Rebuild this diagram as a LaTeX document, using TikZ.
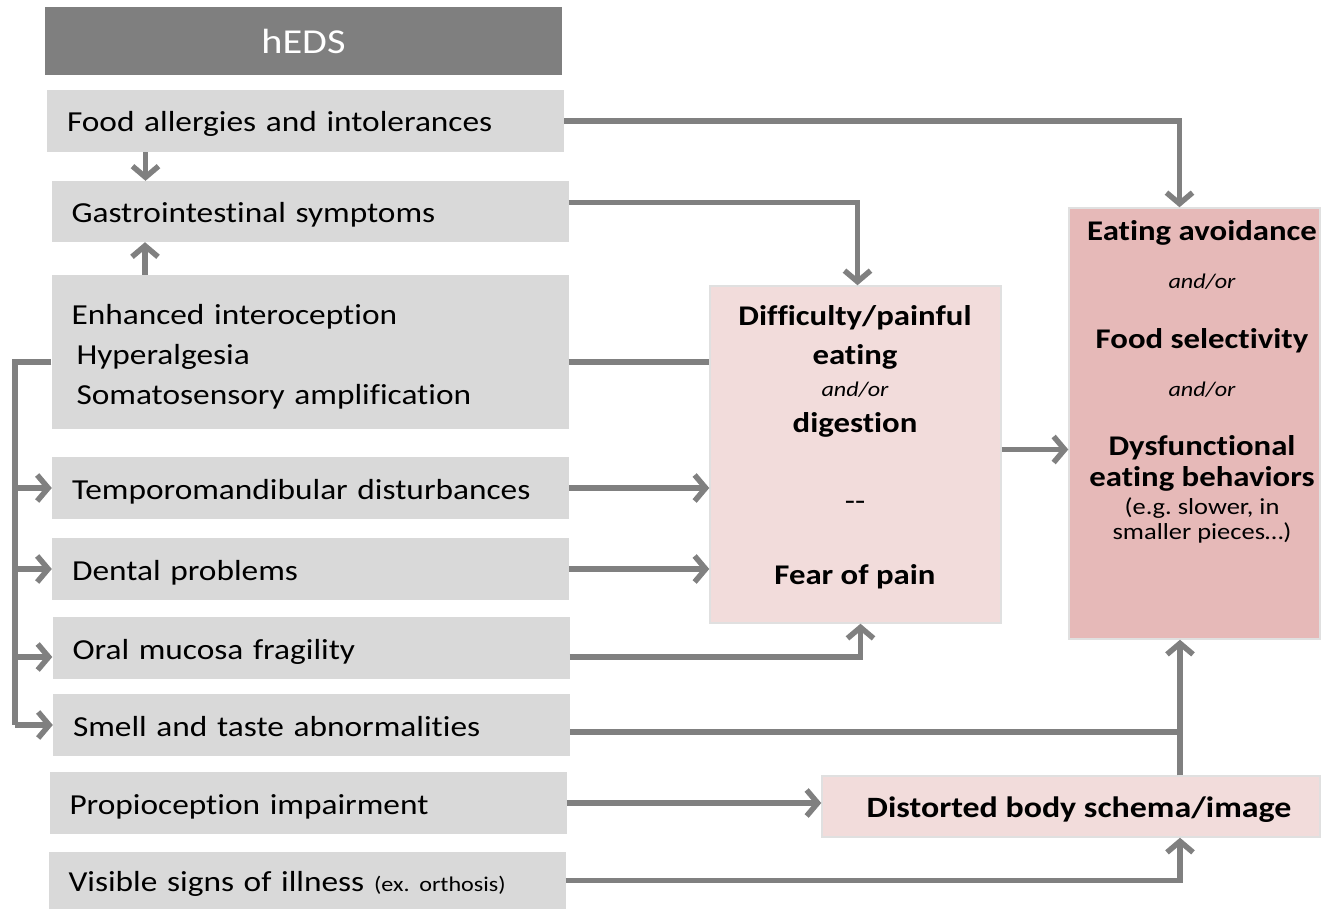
\documentclass[tikz,border=0pt]{standalone}
\usepackage{fontspec}
\setmainfont{Carlito}[FakeStretch=1.15, Ligatures=NoCommon]
\usetikzlibrary{arrows.meta}
\definecolor{hgray}{HTML}{7F7F7F}
\definecolor{bgray}{HTML}{D9D9D9}
\definecolor{lpink}{HTML}{F2DCDB}
\definecolor{dpink}{HTML}{E6B9B8}
\definecolor{lgray}{HTML}{808080}
\newcommand{\fmain}{\fontsize{29}{40}\selectfont}
\newcommand{\fbold}{\fontsize{28.5}{34}\selectfont\bfseries}
\newcommand{\fital}{\fontsize{21}{26}\selectfont\itshape}
\newcommand{\fsmall}{\fontsize{23}{26}\selectfont}
\frenchspacing
\begin{document}
\begin{tikzpicture}[x=1pt,y=-1pt,
  gbox/.style={fill=bgray, minimum height=#1, text width=477pt, inner xsep=20pt, inner ysep=0pt, align=left, font=\fmain},
  gbox/.default=62pt,
  one/.style={text height=28pt, text depth=6pt},
  pbox/.style={draw=black!12, line width=1.5pt, inner sep=0pt},
  conn/.style={line width=5.5pt, draw=lgray},
  arr/.style={conn, -{Straight Barb[length=11pt,width=26pt]}},
  tx/.style={inner sep=0pt, align=center, anchor=base}
]
\useasboundingbox (0,0) rectangle (1322,909);
% left column
\node[fill=hgray, minimum width=517pt, minimum height=68pt, inner sep=0pt, text=white, font=\fontsize{35}{40}\selectfont] (heds) at (303.5,41) {hEDS};
\node[gbox, one] (food) at (305.5,121) {Food allergies and intolerances};
\node[gbox=61pt, one] (gi) at (310,211.5) {Gastrointestinal symptoms};
\node[gbox=154pt] (enh) at (310,352) {\rule{0pt}{30pt}Enhanced interoception\\\hspace*{5pt}Hyperalgesia\\\hspace*{5pt}Somatosensory amplification};
\node[gbox, one] (tmd) at (310.5,488) {Temporomandibular disturbances};
\node[gbox, one] (den) at (310.5,569) {Dental problems};
\node[gbox, one] (oral) at (311,648) {Oral mucosa fragility};
\node[gbox, one] (smell) at (311.5,725) {Smell and taste abnormalities};
\node[gbox, one] (prop) at (308,803) {Propioception impairment};
\node[gbox=57pt, one] (vis) at (307,880.5) {Visible signs of illness {\fontsize{21}{26}\selectfont(ex. orthosis)}};
% middle / right boxes
\node[pbox, fill=lpink, minimum width=291pt, minimum height=337pt] (diff) at (855.5,454.5) {};
\node[pbox, fill=dpink, minimum width=251pt, minimum height=431pt] (eat) at (1194.5,423.5) {};
\node[pbox, fill=lpink, minimum width=498pt, minimum height=61pt] (dist) at (1071,806.5) {};
\node[tx, font=\fontsize{29.5}{34}\selectfont\bfseries] (dt) at (1079,817) {Distorted body schema/image};
% texts in diff
\node[tx, font=\fbold] (d1) at (855,325) {Difficulty/painful};
\node[tx, font=\fbold] (d2) at (855,364) {eating};
\node[tx, font=\fital] (d3) at (855,396) {and/or};
\node[tx, font=\fbold] (d4) at (855,432) {digestion};
\node[tx, font=\fmain] (d5) at (855,510) {-{}-};
\node[tx, font=\fbold] (d6) at (855,584) {Fear of pain};
% texts in eat
\node[tx, font=\fbold] (e1) at (1202,241) {Eating avoidance};
\node[tx, font=\fital] (e2) at (1202,289) {and/or};
\node[tx, font=\fbold] (e3) at (1202,348) {Food selectivity};
\node[tx, font=\fital] (e4) at (1202,396) {and/or};
\node[tx, font=\fbold] (e5) at (1202,455) {Dysfunctional};
\node[tx, font=\fbold] (e6) at (1202,486) {eating behaviors};
\node[tx, font=\fsmall] (e7) at (1202,514) {(e.g. slower, in};
\node[tx, font=\fsmall] (e8) at (1202,539) {smaller pieces…)};
% coordinates
\coordinate (j) at ([xshift=109pt]dist.north);
\coordinate (bk) at (15,0);
% connectors
\draw[arr] (food.east) -| ([xshift=-15pt]eat.north);
\draw[arr] ([xshift=-160pt]food.south) -- ([xshift=-160pt]food.south |- gi.north);
\draw[arr] ([xshift=-165pt]enh.north) -- ([xshift=-165pt]enh.north |- gi.south);
\draw[arr] ([yshift=9pt]gi.east) -| ([xshift=2pt]diff.north);
\draw[conn] ([yshift=-10pt]enh.east) -- ([yshift=-10pt]enh.east -| diff.west);
\draw[arr] (tmd.east) -- (tmd.east -| diff.west);
\draw[arr] (den.east) -- (den.east -| diff.west);
\draw[arr] ([yshift=-9pt]oral.east) -| ([xshift=5pt]diff.south);
\draw[arr] ([yshift=5pt]diff.east) -- ([yshift=5pt]diff.east -| eat.west);
\draw[arr] (j) -- (j |- eat.south);
\draw[conn] ([yshift=-7pt]smell.east) -- ([yshift=-7pt]smell.east -| j);
\draw[arr] (prop.east) -- (prop.east -| dist.west);
\draw[arr] (vis.east) -| (j |- dist.south);
% left bracket
\draw[conn] ([yshift=-10pt]enh.west) -| (bk |- smell.west);
\draw[arr] (bk |- tmd.west) -- (tmd.west);
\draw[arr] (bk |- den.west) -- (den.west);
\draw[arr] ([yshift=-9pt]bk |- oral.west) -- ([yshift=-9pt]oral.west);
\draw[arr] (bk |- smell.west) -- (smell.west);
\end{tikzpicture}
\end{document}
